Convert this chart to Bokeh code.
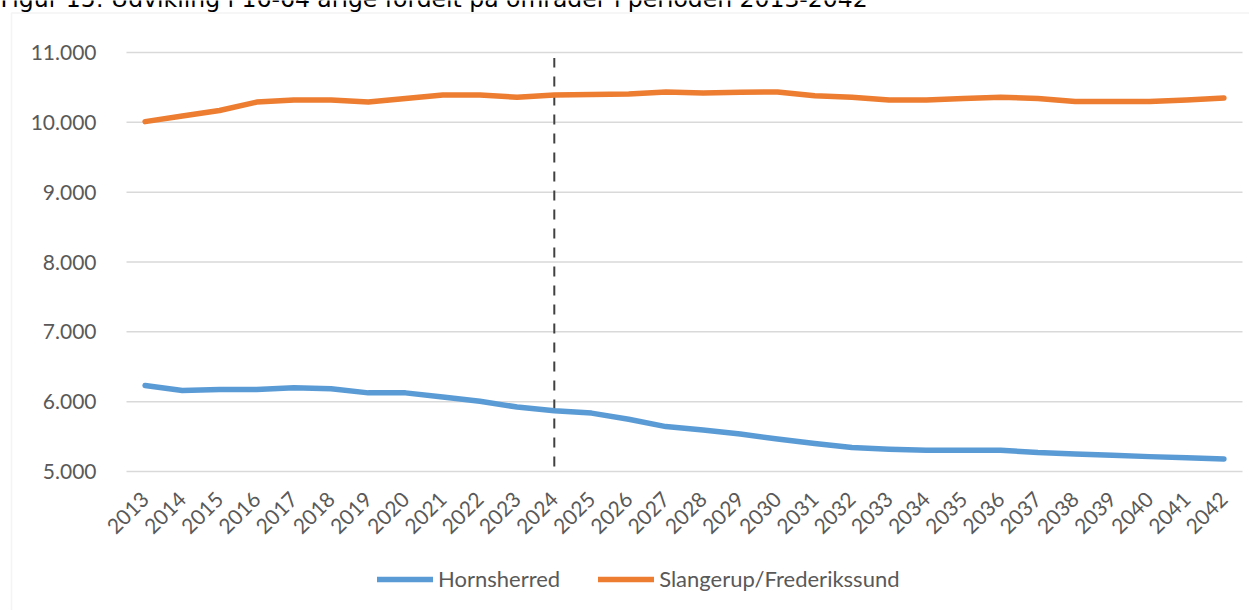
import math
from bokeh.plotting import figure
from bokeh.models import (ColumnDataSource, Range1d, CustomJSTickFormatter, FixedTicker,
                          Legend, LegendItem, Label, BoxAnnotation)
from bokeh.embed import file_html
from bokeh.resources import INLINE

years = list(range(2013, 2043))
hornsherred = [6232, 6159, 6174, 6174, 6198, 6184, 6126, 6126, 6068, 6005,
               5923, 5870, 5836, 5749, 5643, 5594, 5536, 5464, 5401, 5343,
               5319, 5304, 5304, 5304, 5271, 5251, 5232, 5213, 5198, 5179]
slangerup = [10010, 10090, 10170, 10290, 10320, 10320, 10290, 10340, 10390, 10390,
             10360, 10390, 10400, 10405, 10435, 10420, 10430, 10435, 10380, 10360,
             10320, 10320, 10340, 10360, 10340, 10300, 10300, 10300, 10320, 10350]
y_ticks = [5000, 6000, 7000, 8000, 9000, 10000, 11000]
marker_year = [2024]
marker_lo = [5070]
marker_hi = [10920]
series_names = ["Hornsherred", "Slangerup/Frederikssund"]
title_text = "Figur 15: Udvikling i 16-64 årige fordelt på områder i perioden 2013-2042"

BLUE = "#5B9BD5"
ORANGE = "#ED7D31"
GRID = "#D9D9D9"
LABEL = "#595959"
FONT = "Lato"

# page geometry (pixels): plot area 126..1242 x 52..471 on a 1249x610 canvas
W, H = 1249, 610
PLOT_L, PLOT_R, PLOT_T, PLOT_B = 126, 1242, 52, 471
px_year = (PLOT_R - PLOT_L) / len(years)
px_unit = (PLOT_B - PLOT_T) / (y_ticks[-1] - y_ticks[0])
x_lo = years[0] - 0.5 - PLOT_L / px_year
x_hi = x_lo + W / px_year
y_lo = y_ticks[0] - (H - PLOT_B) / px_unit
y_hi = y_ticks[-1] + PLOT_T / px_unit

src = ColumnDataSource(dict(year=years, h=hornsherred, s=slangerup))

p = figure(x_range=Range1d(x_lo, x_hi), y_range=Range1d(y_lo, y_hi),
           width=W, height=H, output_backend="svg", toolbar_location=None,
           min_border=0, min_border_left=0, min_border_right=0,
           min_border_top=0, min_border_bottom=0)
p.outline_line_color = None
p.background_fill_color = "white"
p.border_fill_color = "white"
p.xgrid.visible = False
p.ygrid.visible = False

# horizontal gridlines across the category band
grid_x0 = [years[0] - 0.5] * len(y_ticks)
grid_x1 = [years[-1] + 0.5] * len(y_ticks)
p.segment(x0=grid_x0, y0=y_ticks, x1=grid_x1, y1=y_ticks, line_color=GRID, line_width=1.5)

# axes drawn at the edges of the category band
p.yaxis.fixed_location = years[0] - 0.5
p.xaxis.fixed_location = y_ticks[0]
p.yaxis.ticker = FixedTicker(ticks=y_ticks)
p.yaxis.formatter = CustomJSTickFormatter(code="return (tick/1000).toFixed(3);")
p.xaxis.ticker = FixedTicker(ticks=years)
p.xaxis.formatter = CustomJSTickFormatter(code="return tick.toFixed(0);")
for ax in (p.xaxis, p.yaxis):
    ax.axis_line_color = None
    ax.major_tick_line_color = None
    ax.minor_tick_line_color = None
    ax.major_tick_out = 0
    ax.major_tick_in = 0
    ax.major_label_text_color = LABEL
    ax.major_label_text_font = FONT
    ax.major_label_text_font_size = "21px"
p.yaxis.major_label_standoff = 30
p.xaxis.major_label_orientation = math.pi / 4
p.xaxis.major_label_standoff = 24

p.segment(x0=marker_year, y0=marker_lo, x1=marker_year, y1=marker_hi,
          line_color="#404040", line_width=2, line_dash="10 9")

r_h = p.line(x="year", y="h", source=src, line_color=BLUE, line_width=5.5,
             line_cap="round", line_join="round")
r_s = p.line(x="year", y="s", source=src, line_color=ORANGE, line_width=5.5,
             line_cap="round", line_join="round")

legend = Legend(items=[LegendItem(label=series_names[0], renderers=[r_h]),
                       LegendItem(label=series_names[1], renderers=[r_s])],
                orientation="horizontal", location=(377, 18),
                padding=0, margin=0, spacing=38, label_standoff=5,
                glyph_width=56, glyph_height=26, label_height=26,
                border_line_color=None, background_fill_color=None,
                label_text_font=FONT, label_text_font_size="22px",
                label_text_color=LABEL)
p.add_layout(legend, "center")

# outer chart box (its right and bottom edges lie outside the window)
p.add_layout(BoxAnnotation(left=x_lo + 11 / px_year, right=x_hi + 5,
                           top=y_hi - 12.5 / px_unit, bottom=y_lo - 1000,
                           fill_color=None, line_color=GRID, line_width=1.5))

# caption above the box, cut by the top of the window as in the reference
p.add_layout(Label(x=0, x_units="screen", y=y_hi + 2 / px_unit, text=title_text,
                   text_font="DejaVu Sans", text_font_size="23.5px",
                   text_color="black", text_baseline="alphabetic"))

open("out.html", "w").write(file_html(p, INLINE))
